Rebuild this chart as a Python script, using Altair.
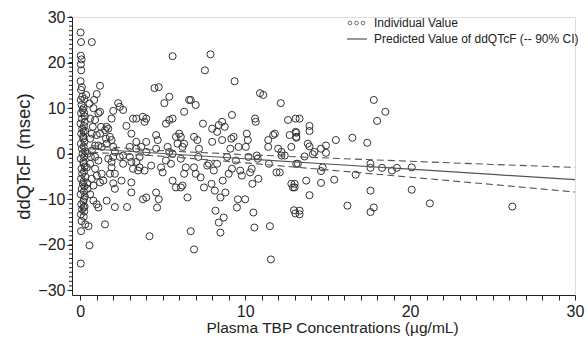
import altair as alt
import pandas as pd

# ---- Individual values (concentration, ddQTcF) ----
conc = [
    # dense column near zero concentration
    0.02, 0.05, 0.03, 0.08, 0.04, 0.06, 0.02, 0.1, 0.05, 0.12, 0.03, 0.08, 0.15, 0.05, 0.1, 0.02, 0.12,
    0.06, 0.18, 0.04, 0.1, 0.14, 0.03, 0.2, 0.07, 0.12, 0.05, 0.16, 0.09, 0.03, 0.22, 0.06, 0.11, 0.04,
    0.08, 0.05, 0.03,
    0.25, 0.2, 0.28, 0.22, 0.3, 0.18, 0.26, 0.21, 0.29, 0.24, 0.19, 0.27, 0.23, 0.3, 0.2, 0.25, 0.22,
    0.28, 0.19, 0.26, 0.24, 0.21, 0.3, 0.23, 0.27, 0.2,
    # 0.3 - 2.5
    0.7, 0.36, 0.56, 0.84, 1.0, 1.2, 0.8, 1.1, 1.2, 0.6, 0.9, 0.76, 1.26, 0.7, 1.0, 0.6, 0.9, 1.1, 1.3,
    1.6, 0.44, 0.64, 0.9, 1.1, 0.4, 0.6, 0.9, 1.3, 1.0, 0.7, 0.44, 0.8, 1.2, 1.4, 0.6, 0.8, 1.0, 1.1,
    0.5, 0.56, 0.2, 0.44, 0.7, 1.2,
    1.5, 1.6, 1.7, 1.56, 1.8, 1.9, 1.5, 1.6, 1.8, 1.9, 1.9, 1.7, 2.0, 2.1, 2.0,
    1.9, 2.0, 2.3, 2.6, 2.4, 2.1, 2.1, 2.0, 2.1, 2.5, 2.4, 2.6, 2.6,
    # 2.5 - 6
    2.8, 2.84, 3.0, 3.0, 3.1, 3.1, 3.1, 3.1, 3.2, 3.2, 3.4, 3.4, 3.4, 3.4, 3.5, 3.6, 3.6, 3.7, 3.8,
    3.9, 4.0, 4.0, 4.0, 3.8, 4.0, 3.9, 4.2, 4.3, 4.5, 4.76, 4.6, 4.7, 4.6, 4.6, 4.66, 4.76, 4.9, 5.0,
    5.1, 5.4, 5.2, 5.4, 5.6, 5.6, 5.3, 5.4, 5.6, 5.2, 5.5, 5.6, 5.8, 5.8, 5.9, 6.0, 6.1, 6.1, 6.2,
    6.3, 6.3, 6.1, 6.2, 6.3, 6.4, 6.5,
    # 6.5 - 9
    6.6, 6.7, 6.7, 6.9, 7.0, 6.9, 7.1, 7.2, 7.16, 7.0, 6.9, 7.3, 7.44, 7.56, 7.5, 7.7, 7.8, 7.9, 8.0,
    8.0, 7.96, 8.1, 8.16, 8.2, 8.3, 8.3, 8.4, 8.4, 8.5, 8.5, 8.6, 8.6, 8.64, 8.7, 8.76, 8.8, 8.9,
    # 9 - 12
    9.0, 9.1, 9.16, 9.2, 9.2, 9.3, 9.36, 9.5, 9.44, 9.56, 9.6, 9.7, 9.8, 10.0, 10.04, 10.1, 10.16,
    10.2, 10.3, 10.4, 10.44, 10.5, 10.56, 10.6, 10.64, 10.7, 10.76, 10.8, 10.9, 11.1, 11.4, 11.4,
    11.44, 11.5, 11.56, 11.7, 11.8, 11.9, 12.0, 12.16, 12.2,
    # 12 - 16
    12.6, 12.8, 12.9, 12.96, 13.04, 13.06, 13.06, 13.1, 13.1, 12.8,
    13.3, 12.7, 13.1, 13.1, 13.9, 13.9, 13.8, 13.9, 14.2, 14.1, 14.6, 14.9, 14.9, 15.5, 13.6, 13.2,
    14.7, 14.6, 12.2, 12.4, 12.1, 13.0, 13.0, 13.7, 14.6, 15.4, 13.9, 13.3, 13.3,
    # 16 +
    16.2, 16.5, 16.7, 17.4, 17.8, 18.5, 18.0, 17.6, 17.6, 18.3, 18.9, 19.2, 20.1, 17.6, 17.8, 17.6,
    20.1, 21.2, 26.2,
]

ddqtcf = [
    26.6, 24.5, 21.5, 20.7, 19.6, 18.3, 15.9, 14.6, 14.0, 12.5, 11.8, 10.7, 9.6, 8.9, 7.7, 6.6, 5.5,
    4.4, 3.3, 2.2, 1.1, 0.0, -1.1, -2.2, -3.3, -4.4, -5.5, -6.6, -7.7, -8.9, -10.0, -11.1, -12.2, -13.3,
    -14.8, -17.0, -24.1,
    12.0, 10.0, 8.2, 6.1, 5.0, 3.8, 2.7, 1.6, 0.5, -0.6, -1.7, -2.8, -3.9, -5.0, -6.1, -7.2, -8.3,
    -9.4, -10.5, -11.6, -12.7, -13.8, -15.5, 9.0, 7.0, 4.9,
    24.5, 12.9, 11.0, 11.8, 13.1, 14.9, 10.0, 8.9, 9.2, 7.7, 7.4, 5.9, 5.9, 4.4, 4.1, 3.3, 1.8, 1.8, 1.5,
    2.2, 0.0, -0.7, -0.7, -1.5, -3.0, -2.2, -3.3, -4.4, -4.8, -5.5, -6.6, -7.0, -6.3, -5.9, -8.9, -10.3,
    -11.1, -11.8, -15.9, -20.1, -11.8, -7.7, 0.7, 4.4,
    5.2, 5.9, 5.5, 3.3, 3.7, 3.0, -15.5, -10.3, -4.4, -3.0, -1.8, -1.1, 1.5, 0.4, -0.7,
    7.7, 9.4, 11.1, 9.6, 10.3, -7.7, -4.4, -6.5, -11.7, -5.9, -0.7, -0.4, -2.2,
    6.1, -11.7, 1.5, -0.7, 4.4, -6.3, -8.5, -1.8, -3.3, 7.7, 7.7, 2.6, 1.1, -1.8, -3.7, -3.0, -0.7, 1.5,
    8.1, 7.0, 7.7, 2.6, 0.4, -10.0, -9.6, -3.7, -18.1, -2.6, 14.4, 14.6, 4.1, 3.0, 1.1, -8.5, -11.8,
    -10.0, -3.0, -4.1, 11.1, 12.5, 6.6, 7.4, 7.7, 21.4, 1.5, 0.4, 0.0, -1.5, -2.2, -5.9, -7.4, 3.7, 2.2,
    4.4, -1.1, 3.7, 1.5, 2.2, 9.2, -7.4, -7.0, -4.4, -3.0, -9.6,
    11.8, 11.8, -17.0, -21.0, 10.7, 3.7, 3.0, 1.1, -0.7, -4.4, -3.0, -5.2, 6.6, 18.3, -7.4, -2.6, -2.2,
    21.8, 5.5, 2.6, -6.6, -3.7, -8.1, -12.5, 4.8, -2.2, 6.3, -15.1, -9.6, -17.3, 3.0, 7.0, -5.9, -14.0,
    5.9, -8.5, -0.7,
    -4.4, 1.1, 3.3, 8.5, -3.3, 3.7, 15.9, -11.8, -1.5, -10.0, 1.5, -3.7, -4.8, -10.0, 1.5, 4.4, 3.0,
    -0.7, -4.1, -3.3, -6.6, -12.9, -16.2, 7.7, 7.0, -0.4, -1.1, -5.5, 13.3, 12.9, 3.0, 1.5, -2.2, -15.9,
    -23.2, 4.1, 4.4, -4.1, 1.1, 11.1, -0.4,
    7.4, -6.6, -7.4, -12.4, -13.1, 7.7, 4.8, 3.7, -2.2, 1.5,
    7.7, 4.1, 4.6, 3.5, 6.1, 5.0, 2.2, 1.6, 0.4, -0.1, 1.1, 1.8, 0.2, 3.0, -0.6, -2.2, -3.0, -3.8, 0.4,
    -0.4, -4.1, -6.6, -7.4, -5.9, -6.4, -5.7, -9.1, -12.5, -13.3,
    -11.4, 3.5, -4.6, 2.4, 11.8, 9.2, 7.2, -2.2, -3.1, -3.1, -3.7, -3.1, -3.0, -8.1, -11.8, -12.8,
    -7.9, -10.9, -11.6,
]

# ---- Predicted regression line and its 90% CI ----
fit_conc = [0, 5, 10, 15, 20, 25, 30]
fit_pred = [1.2, 0.05, -1.1, -2.25, -3.4, -4.55, -5.7]
fit_upper = [1.95, 0.65, -0.2, -0.95, -1.65, -2.35, -3.0]
fit_lower = [0.45, -0.55, -2.0, -3.55, -5.15, -6.75, -8.4]

x_ticks = list(range(0, 31))
y_minor = list(range(-30, 31))
y_major = [-30, -20, -10, 0, 10, 20, 30]

legend_labels = ["Individual Value", "Predicted Value of ddQTcF (-- 90% CI)"]

n = min(len(conc), len(ddqtcf))
pts = pd.DataFrame({"conc": conc[:n], "ddqtcf": ddqtcf[:n]})
fit = pd.DataFrame({"conc": fit_conc, "pred": fit_pred, "upper": fit_upper, "lower": fit_lower})

FONT = "Liberation Sans"
xscale = alt.Scale(domain=[-0.5, 30], nice=False, zero=False)
yscale = alt.Scale(domain=[-31, 30], nice=False, zero=False)

xaxis = alt.Axis(
    values=x_ticks, tickCount=100, format="d",
    labelExpr="datum.value % 10 == 0 ? datum.label : ''",
    labelOverlap=False, labelBound=False,
    grid=False, tickSize=5, tickColor="#222", domainColor="#222", labelColor="#222",
    labelFont=FONT, labelFontSize=16, labelPadding=3, labelFlush=False,
    title="Plasma TBP Concentrations (µg/mL)", titleFont=FONT, titleFontSize=15.5,
    titleFontWeight="normal", titleColor="#222", titlePadding=1, titleX=260,
)
yaxis = alt.Axis(
    values=y_major, tickCount=100, format="d", labelOverlap=False, grid=False, tickSize=5,
    tickColor="#222", domainColor="#222", labelColor="#222", labelFont=FONT, labelFontSize=16,
    labelPadding=2,
    title="ddQTcF (msec)", titleFont=FONT, titleFontSize=18.5, titleFontWeight="normal",
    titleColor="#222", titlePadding=4,
)

points = alt.Chart(pts).mark_point(
    shape="circle", filled=False, size=50, stroke="#333", strokeWidth=1, opacity=1
).encode(
    x=alt.X("conc:Q", scale=xscale, axis=xaxis),
    y=alt.Y("ddqtcf:Q", scale=yscale, axis=yaxis),
)

pred_line = alt.Chart(fit).mark_line(color="#555", strokeWidth=1.2).encode(
    x=alt.X("conc:Q", scale=xscale), y=alt.Y("pred:Q", scale=yscale)
)
upper_line = alt.Chart(fit).mark_line(color="#555", strokeWidth=1.1, strokeDash=[7, 4]).encode(
    x=alt.X("conc:Q", scale=xscale), y=alt.Y("upper:Q", scale=yscale)
)
lower_line = alt.Chart(fit).mark_line(color="#555", strokeWidth=1.1, strokeDash=[7, 4]).encode(
    x=alt.X("conc:Q", scale=xscale), y=alt.Y("lower:Q", scale=yscale)
)

# minor y-axis ticks (shorter than the labelled ones)
minor = alt.Chart(pd.DataFrame({"v": y_minor})).mark_rule(color="#222", strokeWidth=1).encode(
    y=alt.Y("v:Q", scale=yscale), x=alt.value(-3), x2=alt.value(0)
)

# legend (top right), positioned in pixels
one = pd.DataFrame({"a": [0]})
leg_syms = [
    alt.Chart(one).mark_point(
        shape="circle", filled=False, size=14, stroke="#333", strokeWidth=1
    ).encode(x=alt.value(px), y=alt.value(6))
    for px in (278, 284.5, 291)
]
leg_line = alt.Chart(one).mark_rule(color="#555", strokeWidth=1.2).encode(
    x=alt.value(275), x2=alt.value(295), y=alt.value(22)
)
leg_texts = [
    alt.Chart(pd.DataFrame({"label": [lab]})).mark_text(
        align="left", baseline="middle", font=FONT, fontSize=12, color="#222"
    ).encode(x=alt.value(302), y=alt.value(py), text="label:N")
    for lab, py in zip(legend_labels, (6, 22))
]

chart = alt.layer(
    points, pred_line, upper_line, lower_line, minor, *leg_syms, leg_line, *leg_texts
).properties(
    width=503, height=278,
    autosize=alt.AutoSizeParams(type="none"),
    padding={"left": 72, "top": 17, "right": 13, "bottom": 47},
).configure_view(stroke=None).configure(background="white")

chart.save("out.html", embed_options={"renderer": "svg", "actions": False})
